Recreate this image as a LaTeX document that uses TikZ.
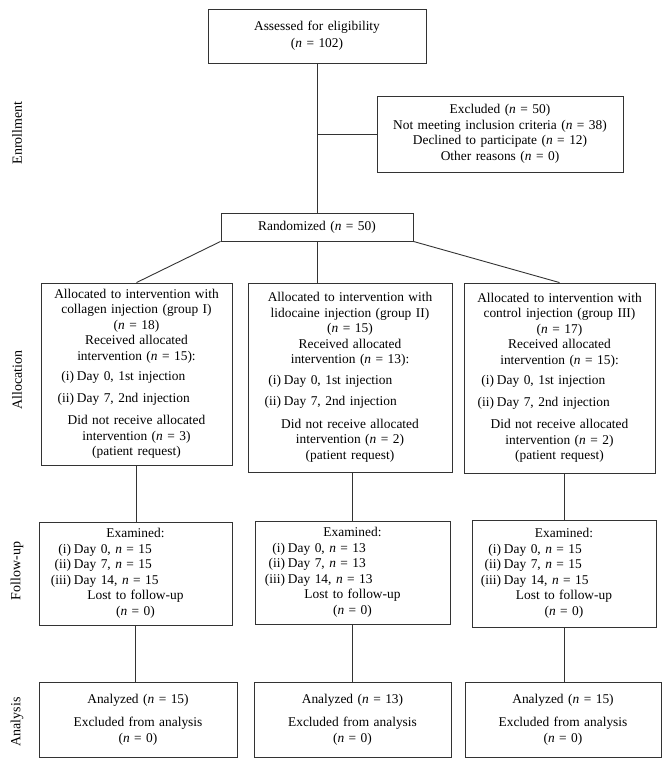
\documentclass[tikz,border=0pt]{standalone}
\usepackage{fontspec}
\setmainfont{Liberation Serif}
\newcommand{\nn}[1]{(\textit{n} = #1)}
\newcommand{\itm}[3]{\makebox[\hsize][l]{\hspace*{#1pt}\llap{#2\kern3pt}#3}}
\begin{document}
\begin{tikzpicture}[x=1pt,y=-1pt,
  box/.style={draw=black!80, line width=0.9pt, inner sep=0pt, align=center,
    font=\fontsize{13.4}{15.5}\selectfont},
  side/.style={rotate=90, font=\fontsize{14}{16}\selectfont},
  conn/.style={draw=black!80, line width=0.9pt}]
\useasboundingbox (0,0) rectangle (670,766);

% side labels
\node[side] (lenr) at (17,133) {Enrollment};
\node[side] (lall) at (17,380) {Allocation};
\node[side] (lfol) at (17,571) {Follow-up};
\node[side] (lana) at (17,722) {Analysis};

% enrollment
\node[box, minimum width=218, minimum height=54, text width=216] (assess) at (317,36)
  {Assessed for eligibility\\[1.5pt] \nn{102}};
\node[box, minimum width=246, minimum height=76, text width=244] (excl) at (500,134)
  {Excluded \nn{50}\\ Not meeting inclusion criteria \nn{38}\\ Declined to participate \nn{12}\\ Other reasons \nn{0}};
\node[box, minimum width=192, minimum height=28, text width=190] (rand) at (317,227)
  {Randomized \nn{50}};

% allocation
\node[box, minimum width=191, minimum height=182, text width=191] (g1) at (136.5,374)
  {Allocated to intervention with\\ collagen injection (group I)\\ \nn{18}\\ Received allocated\\ intervention \nn{15}:\\[5pt]
   \itm{36}{(i)}{Day 0, 1st injection}\\[6pt]
   \itm{36}{(ii)}{Day 7, 2nd injection}\\[7pt]
   Did not receive allocated\\ intervention \nn{3}\\ (patient request)};
\node[box, minimum width=204, minimum height=189, text width=204] (g2) at (350,377.5)
  {Allocated to intervention with\\ lidocaine injection (group II)\\ \nn{15}\\ Received allocated\\ intervention \nn{13}:\\[5pt]
   \itm{36}{(i)}{Day 0, 1st injection}\\[6pt]
   \itm{36}{(ii)}{Day 7, 2nd injection}\\[7pt]
   Did not receive allocated\\ intervention \nn{2}\\ (patient request)};
\node[box, minimum width=191, minimum height=190, text width=191] (g3) at (559.5,378)
  {Allocated to intervention with\\ control injection (group III)\\ \nn{17}\\ Received allocated\\ intervention \nn{15}:\\[5pt]
   \itm{33}{(i)}{Day 0, 1st injection}\\[6pt]
   \itm{33}{(ii)}{Day 7, 2nd injection}\\[7pt]
   Did not receive allocated\\ intervention \nn{2}\\ (patient request)};

% follow-up
\node[box, minimum width=193, minimum height=103, text width=193] (f1) at (135.5,573.5)
  {Examined:\\
   \itm{35}{(i)}{Day 0, \textit{n} = 15}\\
   \itm{35}{(ii)}{Day 7, \textit{n} = 15}\\
   \itm{35}{(iii)}{Day 14, \textit{n} = 15}\\
   Lost to follow-up\\ \nn{0}};
\node[box, minimum width=195, minimum height=103, text width=195] (f2) at (352.5,572.5)
  {Examined:\\
   \itm{33}{(i)}{Day 0, \textit{n} = 13}\\
   \itm{33}{(ii)}{Day 7, \textit{n} = 13}\\
   \itm{33}{(iii)}{Day 14, \textit{n} = 13}\\
   Lost to follow-up\\ \nn{0}};
\node[box, minimum width=184, minimum height=107, text width=184] (f3) at (564,573.5)
  {Examined:\\
   \itm{32}{(i)}{Day 0, \textit{n} = 15}\\
   \itm{32}{(ii)}{Day 7, \textit{n} = 15}\\
   \itm{32}{(iii)}{Day 14, \textit{n} = 15}\\
   Lost to follow-up\\ \nn{0}};

% analysis
\node[box, minimum width=198, minimum height=75, text width=198] (a1) at (138,719.5)
  {Analyzed \nn{15}\\[8pt] Excluded from analysis\\ \nn{0}};
\node[box, minimum width=197, minimum height=75, text width=197] (a2) at (352.5,719.5)
  {Analyzed \nn{13}\\[8pt] Excluded from analysis\\ \nn{0}};
\node[box, minimum width=196, minimum height=75, text width=196] (a3) at (563,719.5)
  {Analyzed \nn{15}\\[8pt] Excluded from analysis\\ \nn{0}};

% connectors
\draw[conn] (assess.south) -- (rand.north);
\draw[conn] (assess.south |- excl.west) -- (excl.west);
\draw[conn] (rand.south west) -- (g1.north);
\draw[conn] (rand.south) -- (rand.south |- g2.north);
\draw[conn] (rand.south east) -- (g3.north);
\draw[conn] (g1.south) -- (g1.south |- f1.north);
\draw[conn] (f2.north |- g2.south) -- (f2.north);
\draw[conn] (f3.north |- g3.south) -- (f3.north);
\draw[conn] (f1.south) -- (f1.south |- a1.north);
\draw[conn] (f2.south) -- (a2.north);
\draw[conn] (f3.south) -- (f3.south |- a3.north);
\end{tikzpicture}
\end{document}
